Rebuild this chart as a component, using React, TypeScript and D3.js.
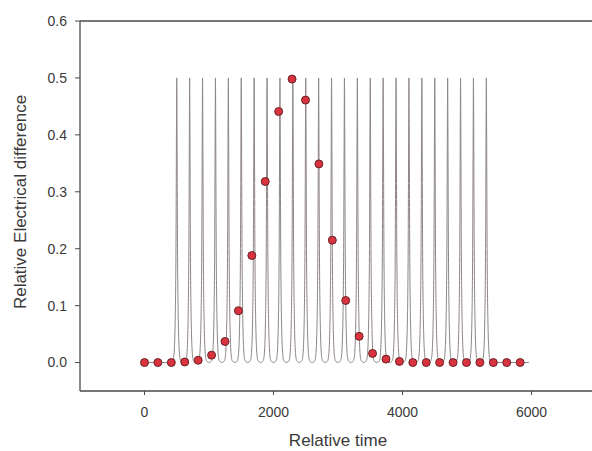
import React from "react";
import * as d3 from "d3";

// ---- data ----
const dotTimes = [0, 208, 416, 624, 832, 1040, 1248, 1456, 1664, 1872, 2080, 2288, 2496, 2704, 2912, 3120, 3328, 3536, 3744, 3952, 4160, 4368, 4576, 4784, 4992, 5200, 5408, 5616, 5824];
const dotValues = [0, 0, 0, 0.001, 0.004, 0.013, 0.037, 0.091, 0.188, 0.318, 0.441, 0.498, 0.461, 0.349, 0.215, 0.109, 0.046, 0.016, 0.006, 0.002, 0, 0, 0, 0, 0, 0, 0, 0, 0];

const peakTimes = [500, 700, 900, 1100, 1300, 1500, 1700, 1900, 2100, 2300, 2500, 2700, 2900, 3100, 3300, 3500, 3700, 3900, 4100, 4300, 4500, 4700, 4900, 5100, 5300];
// one pulse (offset from peak, value)
const pulseOffsets = [0, 4, 8, 12, 18, 24, 30, 38, 48, 60, 80, 100];
const pulseValues = [0.5, 0.42, 0.3, 0.2, 0.12, 0.075, 0.045, 0.022, 0.009, 0.003, 0.001, 0];
const lineStart = 0;
const lineEnd = 5960;

const xTicks = [0, 2000, 4000, 6000];
const yTicks = [0.0, 0.1, 0.2, 0.3, 0.4, 0.5, 0.6];

const W = 592, H = 451;
const left = 80, right = 596, top = 21, bottom = 391;

export default function App() {
  const x = d3.scaleLinear().domain([-1000, 7000]).range([left, right]);
  const y = d3.scaleLinear().domain([-0.05, 0.6]).range([bottom, top]);

  // build waveform from the pulse template placed at each peak
  const pts: [number, number][] = [[lineStart, 0]];
  peakTimes.forEach((p, k) => {
    for (let i = pulseOffsets.length - 1; i >= 1; i--) {
      if (k > 0 && i === pulseOffsets.length - 1) continue;
      pts.push([p - pulseOffsets[i], pulseValues[i]]);
    }
    pts.push([p, pulseValues[0]]);
    for (let i = 1; i < pulseOffsets.length; i++) {
      pts.push([p + pulseOffsets[i], pulseValues[i]]);
    }
  });
  pts.push([lineEnd, 0]);

  const line = d3
    .line<[number, number]>()
    .x((d) => x(d[0]))
    .y((d) => y(d[1]))
    .curve(d3.curveMonotoneX);

  const axisColor = "#4a4a4a";
  const textColor = "#3a3a3a";
  const font = "Liberation Sans, Arial, sans-serif";

  return (
    <svg width={W} height={H} style={{ position: "absolute", left: 0, top: 0, background: "#fff" }} fontFamily={font}>
      <rect x={0} y={0} width={W} height={H} fill="#fff" />
      {/* frame */}
      <line x1={left} x2={right} y1={top} y2={top} stroke={axisColor} strokeWidth={1.3} />
      <line x1={left} x2={right} y1={bottom} y2={bottom} stroke={axisColor} strokeWidth={1.3} />
      <line x1={left} x2={left} y1={top} y2={bottom} stroke={axisColor} strokeWidth={1.3} />
      <line x1={right} x2={right} y1={top} y2={bottom} stroke={axisColor} strokeWidth={1.3} />

      {/* y ticks */}
      {yTicks.map((t) => (
        <g key={"y" + t}>
          <line x1={left - 5} x2={left} y1={y(t)} y2={y(t)} stroke={axisColor} strokeWidth={1} />
          <text x={left - 13} y={y(t)} dy="0.35em" textAnchor="end" fontSize={14} fill={textColor}>
            {t.toFixed(1)}
          </text>
        </g>
      ))}
      {/* x ticks */}
      {xTicks.map((t) => (
        <g key={"x" + t}>
          <line x1={x(t)} x2={x(t)} y1={bottom} y2={bottom + 4} stroke={axisColor} strokeWidth={1} />
          <text x={x(t)} y={bottom + 26} textAnchor="middle" fontSize={14} fill={textColor}>
            {t}
          </text>
        </g>
      ))}

      {/* waveform */}
      <path d={line(pts) || ""} fill="none" stroke="#8e8585" strokeWidth={1} />

      {/* dots */}
      {dotTimes.map((t, i) => (
        <circle key={i} cx={x(t)} cy={y(dotValues[i])} r={4} fill="#d8333e" stroke="#5a1c1f" strokeWidth={0.9} />
      ))}

      {/* labels */}
      <text x={338} y={446} textAnchor="middle" fontSize={17} fill={textColor}>
        Relative time
      </text>
      <text
        transform={`translate(26,202) rotate(-90)`}
        textAnchor="middle"
        fontSize={17}
        fill={textColor}
      >
        Relative Electrical difference
      </text>
    </svg>
  );
}
